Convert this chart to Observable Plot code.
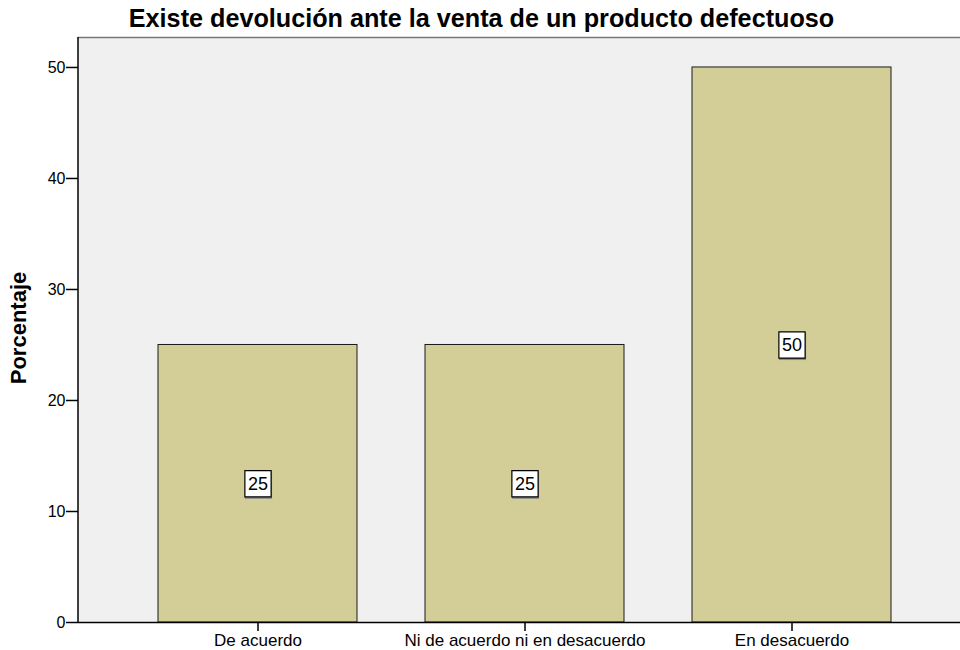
<!DOCTYPE html>
<html><head><meta charset="utf-8">
<script src="https://cdn.jsdelivr.net/npm/d3@7"></script>
<script src="https://cdn.jsdelivr.net/npm/@observablehq/plot@0.6"></script>
<style>
body{margin:0;background:#fff;font-family:"Liberation Sans",Arial,sans-serif;}
#wrap{position:relative;width:960px;height:650px;overflow:hidden;}
#title{position:absolute;left:0;width:963px;top:4px;text-align:center;font-weight:bold;font-size:25.2px;color:#000;white-space:nowrap;}
</style></head><body>
<div id="wrap"><div id="title">Existe devolución ante la venta de un producto defectuoso</div><div id="chart"></div></div>
<script>
const categories = ["De acuerdo", "Ni de acuerdo ni en desacuerdo", "En desacuerdo"];
const values = [25, 25, 50];
const yTicks = [0, 10, 20, 30, 40, 50];
const data = categories.map((c, i) => ({cat: c, value: values[i], mid: values[i] / 2, label: String(values[i])}));

const chart = Plot.plot({
  width: 960, height: 650,
  marginLeft: 78, marginRight: 0, marginTop: 37, marginBottom: 28,
  style: {fontFamily: "Liberation Sans, Arial, sans-serif", fontSize: "16px", color: "#000", background: "transparent"},
  x: {domain: categories, range: [123, 927], paddingInner: 0.2537, paddingOuter: 0.1269, label: null},
  y: {domain: [0, 52.7], ticks: yTicks, label: null},
  marks: [
    Plot.frame({fill: "#f0f0f0", stroke: null}),
    Plot.frame({anchor: "top", stroke: "#777", strokeWidth: 1.5}),
    Plot.barY(data, {x: "cat", y: "value", fill: "#d3ce97", stroke: "#1a1a1a", strokeWidth: 1}),
    Plot.ruleY([0], {stroke: "#000", strokeWidth: 1.5}),
    Plot.axisY({ticks: yTicks, tickSize: 12, tickPadding: 1, fontSize: 16, stroke: "#000", strokeWidth: 1.5}),
    Plot.axisX({tickSize: 9, tickPadding: 2, fontSize: 17, stroke: "#000", strokeWidth: 1.5}),
    Plot.dot(data, {x: "cat", y: "mid", symbol: "square", r: 15.3, fill: "#888", stroke: null, dy: 1.5, dx: 0.5}),
    Plot.dot(data, {x: "cat", y: "mid", symbol: "square", r: 14.8, fill: "#fff", stroke: "#000", strokeWidth: 1.2}),
    Plot.text(data, {x: "cat", y: "mid", text: "label", fontSize: 18, fill: "#000"})
  ]
});
document.getElementById("chart").appendChild(chart);
const svg = d3.select(chart);
// left axis line
svg.append("line").attr("x1", 78).attr("x2", 78).attr("y1", 37).attr("y2", 622).attr("stroke", "#000").attr("stroke-width", 1.5);
// y-axis label
svg.append("text").attr("transform", "translate(26,328) rotate(-90)").attr("text-anchor", "middle")
  .attr("font-weight", "bold").attr("font-size", 22).attr("font-family", "Liberation Sans, Arial, sans-serif").text("Porcentaje");
</script>
</body></html>
